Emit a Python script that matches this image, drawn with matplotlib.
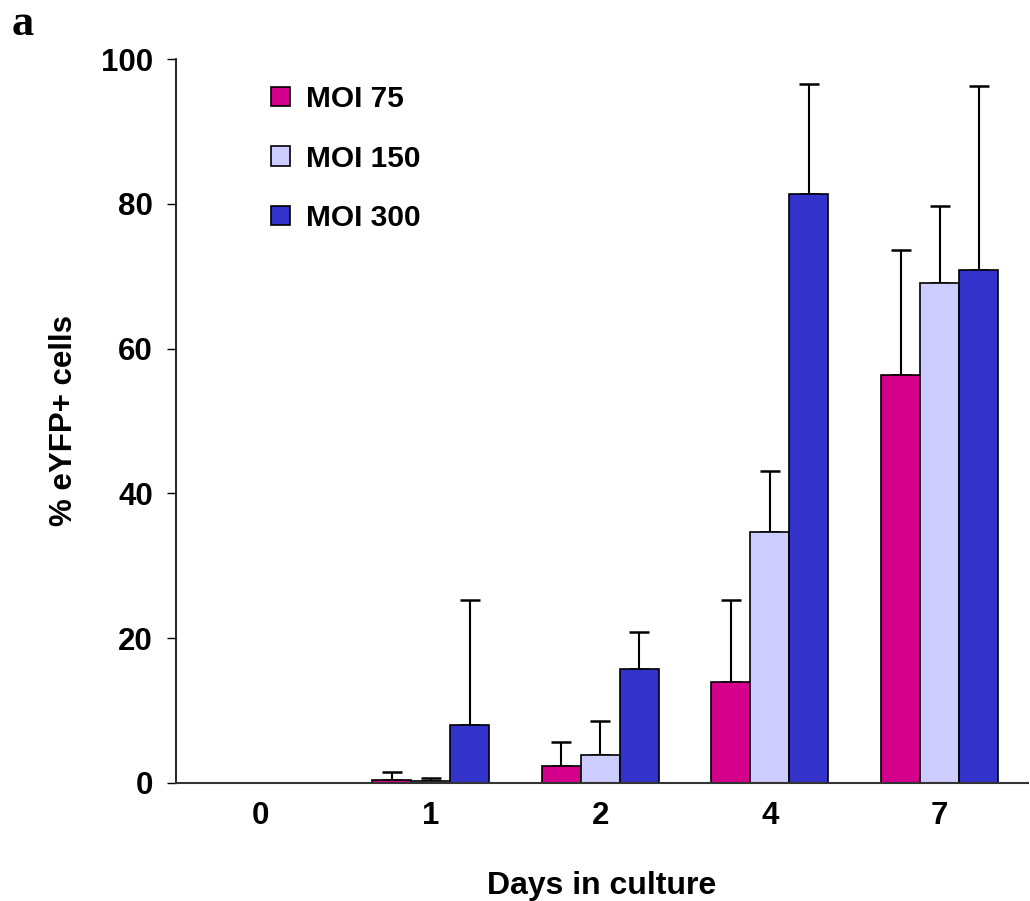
import numpy as np
import matplotlib
matplotlib.use('Agg')
import matplotlib.pyplot as plt

# data
days = ['0', '1', '2', '4', '7']
series = ['MOI 75', 'MOI 150', 'MOI 300']
colors = ['#D4008C', '#CCCCFF', '#3333CC']

moi75 = [0, 0.4, 2.3, 14.0, 56.4]
moi150 = [0, 0.3, 3.9, 34.7, 69.0]
moi300 = [0, 8.0, 15.8, 81.3, 70.9]

err75 = [np.nan, 1.1, 3.3, 11.3, 17.2]
err150 = [np.nan, 0.4, 4.6, 8.4, 10.7]
err300 = [np.nan, 17.3, 5.0, 15.3, 25.4]

plt.rcParams['font.family'] = 'Liberation Sans'
plt.rcParams['font.weight'] = 'bold'

fig = plt.figure(figsize=(10.3, 9.01), dpi=100)
ax = fig.add_axes([0.1709, 0.131, 0.827, 0.8035])

x = np.arange(len(days))
w = 0.23
for i, (vals, errs) in enumerate(zip([moi75, moi150, moi300], [err75, err150, err300])):
    pos = x + (i - 1) * w
    ax.bar(pos, vals, width=w, color=colors[i], edgecolor='black', linewidth=1.2,
           label=series[i], zorder=2)
    ax.errorbar(pos, vals, yerr=[np.zeros(len(vals)), errs], fmt='none',
                ecolor='black', elinewidth=1.5, capsize=7, capthick=1.8, zorder=1)

ax.set_xlim(-0.5, 4.52)
ax.set_ylim(0, 100)
ax.set_yticks([0, 20, 40, 60, 80, 100])
ax.set_xticks(x)
ax.set_xticklabels(days)
ax.tick_params(axis='y', direction='out', length=6.5, width=1, pad=10, labelsize=22.5)
ax.tick_params(axis='x', length=0, pad=13, labelsize=22.5)
for lab in ax.get_xticklabels() + ax.get_yticklabels():
    lab.set_fontweight('bold')

ax.spines['top'].set_visible(False)
ax.spines['right'].set_visible(False)
ax.spines['left'].set_linewidth(1.2)
ax.spines['bottom'].set_linewidth(1.5)
ax.spines['bottom'].set_color('#333333')

ax.set_xlabel('Days in culture', fontsize=23, fontweight='bold', labelpad=29)
ax.set_ylabel('% eYFP+ cells', fontsize=22.5, fontweight='bold', labelpad=16)

ax.legend(loc='upper left', bbox_to_anchor=(0.08, 1.001), frameon=False,
          handlelength=0.62, handleheight=0.62, handletextpad=0.55,
          labelspacing=1.05, prop={'weight': 'bold', 'size': 21.5})

fig.text(0.011, 0.961, 'a', fontsize=32, fontweight='bold', family='Liberation Serif',
         va='baseline')

fig.savefig('out.png', dpi=100)
